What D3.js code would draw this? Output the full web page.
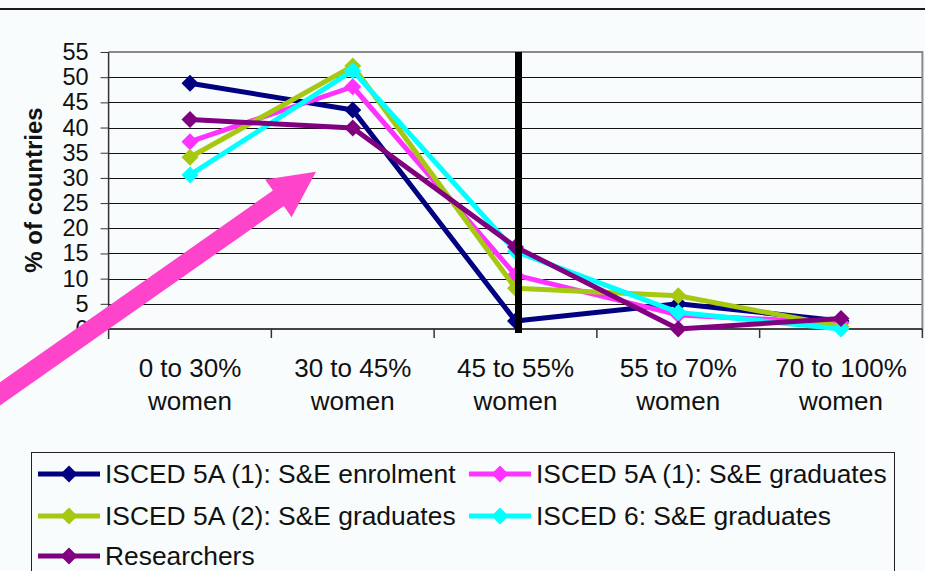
<!DOCTYPE html>
<html>
<head>
<meta charset="utf-8">
<script src="https://cdn.jsdelivr.net/npm/d3@7"></script>
<style>
  html, body { margin: 0; padding: 0; background: #f8fcfc; }
  svg { display: block; font-family: "Liberation Sans", Arial, sans-serif; }
</style>
</head>
<body>
<svg id="chart" width="925" height="571"></svg>
<script>
// Share of women among countries, by field/level
const categories = ["0 to 30%|women", "30 to 45%|women", "45 to 55%|women", "55 to 70%|women", "70 to 100%|women"];
const enrolment5A1 = [48.8, 43.5, 1.6, 5.0, 1.6];
const graduates5A1 = [37.2, 48.1, 10.7, 2.8, 1.2];
const graduates5A2 = [34.1, 52.2, 8.1, 6.6, 0.5];
const graduates6   = [30.6, 51.3, 15.4, 3.3, 0.0];
const researchers  = [41.6, 39.9, 16.3, 0.0, 2.1];
const yTicks = [0, 5, 10, 15, 20, 25, 30, 35, 40, 45, 50, 55];
const seriesNames = [
  "ISCED 5A (1): S&E enrolment",
  "ISCED 5A (1): S&E graduates",
  "ISCED 5A (2): S&E graduates",
  "ISCED 6: S&E graduates",
  "Researchers"
];
const seriesColors = ["#000080", "#ff33ff", "#a6c810", "#00ffff", "#800080"];
const seriesValues = [enrolment5A1, graduates5A1, graduates5A2, graduates6, researchers];

const svg = d3.select("#chart");
const plot = { left: 108.6, right: 922.4, top: 52, bottom: 329 };

const x = d3.scaleBand().domain(categories).range([plot.left, plot.right]).padding(0);
const y = d3.scaleLinear().domain([0, 55]).range([plot.bottom, plot.top]);
const cx = c => x(c) + x.bandwidth() / 2;

// separator rule above the chart
svg.append("line").attr("x1", 0).attr("x2", 925).attr("y1", 9).attr("y2", 9)
  .attr("stroke", "#1a1a1a").attr("stroke-width", 2);

// horizontal gridlines
svg.append("g").selectAll("line").data(yTicks.filter(t => t > 0 && t < 55)).join("line")
  .attr("x1", plot.left).attr("x2", plot.right)
  .attr("y1", d => Math.round(y(d)) + 0.5).attr("y2", d => Math.round(y(d)) + 0.5)
  .attr("stroke", "#111").attr("stroke-width", 1);

// plot frame (top and right)
svg.append("path")
  .attr("d", `M${plot.left},${plot.top}H${plot.right}V${plot.bottom}`)
  .attr("fill", "none").attr("stroke", "#8a8a8a").attr("stroke-width", 2);

// y axis
const yAxis = svg.append("g").attr("transform", `translate(${plot.left},0)`)
  .call(d3.axisLeft(y).tickValues(yTicks).tickSize(8).tickPadding(12));
yAxis.select(".domain").attr("stroke", "#333").attr("stroke-width", 1.5)
  .attr("d", `M0,${plot.top}V${plot.bottom + 10}`);
yAxis.selectAll(".tick line").attr("stroke", "#333");
yAxis.selectAll(".tick text").attr("font-size", 23.5).attr("fill", "#111")
  .attr("font-family", "'Liberation Sans', Arial, sans-serif");

// x axis with ticks between categories
const xg = svg.append("g");
xg.append("line").attr("x1", plot.left).attr("x2", plot.right)
  .attr("y1", plot.bottom).attr("y2", plot.bottom)
  .attr("stroke", "#444").attr("stroke-width", 2);
const bounds = categories.map(c => x(c)).concat([plot.right]);
xg.selectAll("line.tk").data(bounds.slice(1)).join("line").attr("class", "tk")
  .attr("x1", d => d).attr("x2", d => d)
  .attr("y1", plot.bottom).attr("y2", plot.bottom + 9)
  .attr("stroke", "#333").attr("stroke-width", 1.5);
const lab = xg.selectAll("text").data(categories).join("text")
  .attr("text-anchor", "middle").attr("font-size", 26).attr("fill", "#111");
lab.append("tspan").attr("x", d => cx(d)).attr("y", 377).text(d => d.split("|")[0]);
lab.append("tspan").attr("x", d => cx(d)).attr("y", 410).text(d => d.split("|")[1]);

// y axis title
svg.append("text")
  .attr("transform", "translate(33,190) rotate(-90)")
  .attr("text-anchor", "middle").attr("dominant-baseline", "central")
  .attr("font-size", 24).attr("font-weight", "bold").attr("fill", "#111")
  .text("% of countries");

// series
const diamond = "M0,-8.5L8.5,0L0,8.5L-8.5,0Z";
const line = d3.line().x((d, i) => cx(categories[i])).y(d => y(d));
seriesValues.forEach((vals, k) => {
  const g = svg.append("g");
  g.append("path").attr("d", line(vals)).attr("fill", "none")
    .attr("stroke", seriesColors[k]).attr("stroke-width", 5).attr("stroke-linejoin", "round");
  g.selectAll("path.m").data(vals).join("path").attr("class", "m")
    .attr("d", diamond)
    .attr("transform", (d, i) => `translate(${cx(categories[i])},${y(d)})`)
    .attr("fill", seriesColors[k]);
});

// parity marker at 50% women
const parityX = cx(categories[2]) + 3;
svg.append("line").attr("x1", parityX).attr("x2", parityX)
  .attr("y1", plot.top).attr("y2", plot.bottom + 4)
  .attr("stroke", "#000").attr("stroke-width", 7);

// highlight arrow pointing at the 30-45% group
const tip = [cx(categories[0]) + 126, y(31.2)];
const dir = [0.818, -0.575];          // unit direction of the arrow
const nrm = [0.575, 0.818];           // perpendicular
const headLen = 46, headHalf = 23, shaftHalf = 9.5, tailLen = 520;
const base = [tip[0] - dir[0] * headLen, tip[1] - dir[1] * headLen];
const tail = [tip[0] - dir[0] * tailLen, tip[1] - dir[1] * tailLen];
const pt = (p, s) => [p[0] + nrm[0] * s, p[1] + nrm[1] * s];
const arrowPts = [
  tip,
  pt(base, headHalf), pt(base, shaftHalf), pt(tail, shaftHalf),
  pt(tail, -shaftHalf), pt(base, -shaftHalf), pt(base, -headHalf)
];
svg.append("polygon").attr("points", arrowPts.map(p => p.join(",")).join(" "))
  .attr("fill", "#ff44cc");

// legend
const lg = svg.append("g");
lg.append("rect").attr("x", 31.5).attr("y", 452.5).attr("width", 863).attr("height", 140)
  .attr("fill", "none").attr("stroke", "#222").attr("stroke-width", 1);
const legendPos = [[38, 474], [469, 474], [38, 516], [469, 516], [38, 556]];
seriesNames.forEach((name, k) => {
  const [lx, ly] = legendPos[k];
  const item = lg.append("g").attr("transform", `translate(${lx},${ly})`);
  item.append("line").attr("x1", 0).attr("x2", 62).attr("y1", 0).attr("y2", 0)
    .attr("stroke", seriesColors[k]).attr("stroke-width", 5);
  item.append("path").attr("d", diamond).attr("transform", "translate(31,0)")
    .attr("fill", seriesColors[k]);
  item.append("text").attr("x", 67).attr("y", 9)
    .attr("font-size", 26.4).attr("fill", "#111").text(name);
});
</script>
</body>
</html>
